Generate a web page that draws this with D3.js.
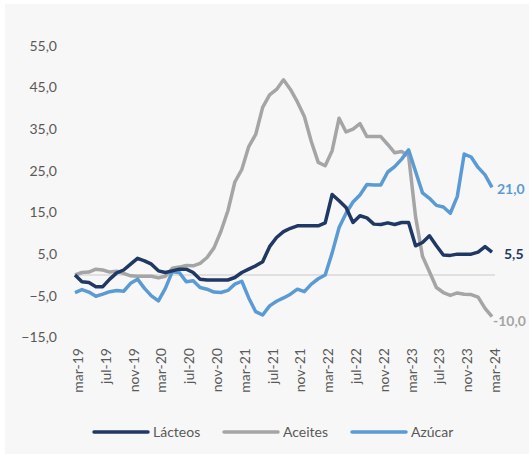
<!DOCTYPE html>
<html>
<head>
<meta charset="utf-8">
<script src="https://cdn.jsdelivr.net/npm/d3@7/dist/d3.min.js"></script>
<style>
  html, body { margin: 0; padding: 0; background: #ffffff; }
  svg { display: block; }
  text { font-family: Lato, "Open Sans", sans-serif; }
</style>
</head>
<body>
<svg id="chart" width="529" height="454"></svg>
<script>
const months = [
  "mar-19","abr-19","may-19","jun-19","jul-19","ago-19","sep-19","oct-19","nov-19","dic-19","ene-20","feb-20",
  "mar-20","abr-20","may-20","jun-20","jul-20","ago-20","sep-20","oct-20","nov-20","dic-20","ene-21","feb-21",
  "mar-21","abr-21","may-21","jun-21","jul-21","ago-21","sep-21","oct-21","nov-21","dic-21","ene-22","feb-22",
  "mar-22","abr-22","may-22","jun-22","jul-22","ago-22","sep-22","oct-22","nov-22","dic-22","ene-23","feb-23",
  "mar-23","abr-23","may-23","jun-23","jul-23","ago-23","sep-23","oct-23","nov-23","dic-23","ene-24","feb-24",
  "mar-24"
];
const xTickLabels = ["mar-19","jul-19","nov-19","mar-20","jul-20","nov-20","mar-21","jul-21","nov-21",
  "mar-22","jul-22","nov-22","mar-23","jul-23","nov-23","mar-24"];
const yTicks = [-15, -5, 5, 15, 25, 35, 45, 55];

const lacteos = [
  0.0, -1.6, -1.8, -2.8, -2.8, -1.0, 0.5, 1.2, 2.6, 4.0, 3.4, 2.6,
  1.0, 0.6, 1.0, 1.4, 1.4, 0.6, -1.0, -1.2, -1.2, -1.2, -1.2, -0.6,
  0.6, 1.4, 2.2, 3.2, 6.8, 9.0, 10.4, 11.2, 11.8, 11.8, 11.8, 11.8,
  12.5, 19.3, 17.8, 16.2, 12.6, 14.2, 13.7, 12.2, 12.1, 12.5, 12.1, 12.6,
  12.6, 7.0, 7.8, 9.4, 7.0, 4.8, 4.7, 5.0, 5.0, 5.0, 5.5, 6.8,
  5.5
];
const aceites = [
  0.0, 0.6, 0.7, 1.4, 1.2, 0.7, 0.9, 0.4, -0.2, -0.3, -0.3, -0.3,
  -0.7, -0.3, 1.6, 1.9, 2.3, 2.2, 2.8, 4.2, 6.5, 10.5, 15.4, 22.3,
  25.3, 30.8, 33.7, 40.2, 43.2, 44.5, 46.8, 44.5, 41.5, 38.0, 32.0, 27.0,
  26.2, 29.8, 37.6, 34.3, 35.0, 36.3, 33.2, 33.2, 33.2, 31.3, 29.3, 29.6,
  28.6, 14.0, 4.5, 0.8, -3.0, -4.2, -4.9, -4.3, -4.6, -4.7, -5.3, -8.0,
  -10.0
];
const azucar = [
  -4.2, -3.5, -4.1, -5.1, -4.6, -4.0, -3.7, -3.9, -2.0, -1.0, -3.2, -5.0,
  -6.2, -3.2, 0.8, 0.6, -1.6, -1.4, -3.0, -3.4, -4.1, -4.2, -3.7, -2.2,
  -1.5, -5.5, -8.8, -9.6, -7.4, -6.3, -5.5, -4.6, -3.4, -4.0, -2.2, -0.9,
  0.0, 5.3, 11.4, 14.8, 17.5, 19.2, 21.7, 21.6, 21.6, 24.7, 26.0, 27.8,
  30.0, 24.8, 19.7, 18.4, 16.7, 16.3, 14.8, 18.8, 29.0, 28.3, 25.8, 24.0,
  21.0
];
const seriesNames = ["Lácteos", "Aceites", "Azúcar"];
const endLabels = ["5,5", "-10,0", "21,0"];

const colors = ["#1f3864", "#a5a5a5", "#5b9bd5"];
const seriesData = [lacteos, aceites, azucar];

const svg = d3.select("#chart");
svg.append("rect").attr("x", 5).attr("y", 4).attr("width", 524).attr("height", 450).attr("fill", "#f7f7f7");

const x = d3.scalePoint().domain(months).range([75, 492]);
const y = d3.scaleLinear().domain([-15, 55]).range([337.55, 45.65]);
const fmt = v => d3.format(".1f")(v).replace(".", ",");

// y tick labels
svg.append("g").selectAll("text").data(yTicks).join("text")
  .attr("x", 57).attr("y", d => y(d)).attr("dy", "0.35em")
  .attr("text-anchor", "end").attr("font-size", 14).attr("fill", "#595959")
  .text(d => fmt(d));

// x tick labels
svg.append("g").selectAll("text").data(xTickLabels).join("text")
  .attr("transform", d => `translate(${x(d) + 3},348) rotate(-90)`)
  .attr("dy", "0.35em")
  .attr("text-anchor", "end").attr("font-size", 14).attr("fill", "#595959")
  .text(d => d);

// zero line
svg.append("line")
  .attr("x1", x(months[0])).attr("x2", x(months[months.length - 1]) + 3)
  .attr("y1", y(0)).attr("y2", y(0))
  .attr("stroke", "#d9d9d9").attr("stroke-width", 1.5);

const line = d3.line().x((d, i) => x(months[i])).y(d => y(d));

// draw order: Aceites, Azúcar, Lácteos? keep Lácteos over
const order = [1, 2, 0];
order.forEach(k => {
  svg.append("path").datum(seriesData[k])
    .attr("d", line).attr("fill", "none")
    .attr("stroke", colors[k]).attr("stroke-width", 3.5)
    .attr("stroke-linejoin", "round").attr("stroke-linecap", "butt");
});

// end labels
const endX = [504, 493, 497];
seriesData.forEach((s, k) => {
  const last = s[s.length - 1];
  svg.append("text")
    .attr("x", endX[k]).attr("y", y(last) + (k === 1 ? 4 : 2)).attr("dy", "0.35em")
    .attr("font-size", 14).attr("font-weight", "bold").attr("fill", colors[k])
    .text(endLabels[k]);
});

// legend
const legX = [94, 224, 352];
seriesNames.forEach((n, k) => {
  svg.append("line").attr("x1", legX[k]).attr("x2", legX[k] + 54)
    .attr("y1", 432).attr("y2", 432)
    .attr("stroke", colors[k]).attr("stroke-width", 3.5).attr("stroke-linecap", "round");
  svg.append("text").attr("x", legX[k] + 59).attr("y", 432).attr("dy", "0.35em")
    .attr("font-size", 14).attr("fill", "#595959").text(n);
});
</script>
</body>
</html>
